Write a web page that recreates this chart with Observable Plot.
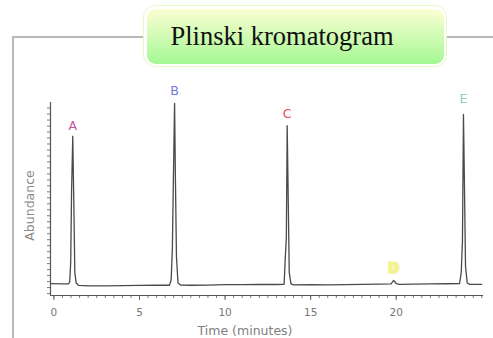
<!DOCTYPE html>
<html><head><meta charset="utf-8">
<script src="https://cdn.jsdelivr.net/npm/d3@7"></script>
<script src="https://cdn.jsdelivr.net/npm/@observablehq/plot@0.6"></script>
<style>
html,body{margin:0;padding:0;background:#fff;width:493px;height:338px;overflow:hidden;position:relative;}
#frame{position:absolute;left:12px;top:36px;width:500px;height:320px;border-top:2px solid #b8b8b8;border-left:2px solid #b8b8b8;}
#title{position:absolute;left:143px;top:5px;padding:2.5px;background:#fff;border:1.5px solid #e4fcc4;border-radius:12px;}
#title div{width:297px;height:55px;border-radius:9px;background:linear-gradient(#fcfed2,#a4f894);font-family:"Liberation Serif",serif;font-size:26.5px;line-height:55px;color:#111;padding-left:24px;box-sizing:border-box;white-space:nowrap;}
#chart{position:absolute;left:0;top:0;}
</style>
</head><body>
<div id="frame"></div>
<div id="chart"></div>
<div id="title"><div>Plinski kromatogram</div></div>
<script>
// Chromatogram trace (time in minutes, relative abundance)
const times = [-0.2, 0.5, 0.85, 0.92, 0.98, 1.03, 1.1, 1.16, 1.22, 1.3, 1.45, 2, 3, 4, 5, 6, 6.75, 6.85, 6.92, 6.98, 7.05, 7.1, 7.16, 7.25, 7.4, 8, 9, 10, 11, 12, 13, 13.45, 13.52, 13.58, 13.63, 13.69, 13.75, 13.85, 14, 15, 16, 17, 18, 19, 19.7, 19.85, 20.0, 20.2, 21, 22, 23, 23.7, 23.8, 23.87, 23.93, 23.99, 24.05, 24.15, 24.3, 25.0];
const abundance = [6.2, 6.0, 6.0, 7, 17, 53, 82.5, 50, 12, 6.5, 5.2, 5.0, 5.0, 5.1, 5.2, 5.3, 5.3, 8, 24, 60, 99.5, 60, 20, 6.5, 5.4, 5.3, 5.4, 5.6, 5.6, 5.7, 5.7, 5.8, 20, 30, 88, 50, 12, 6, 5.5, 5.6, 5.5, 5.6, 5.8, 5.9, 6, 7.8, 6.2, 5.8, 5.9, 6, 6.1, 6.2, 12, 28, 93.8, 55, 15, 6.5, 5.8, 5.8];

// Peak labels
const peakNames = ["A", "B", "C", "D", "E"];
const peakTimes = [1.1, 7.05, 13.63, 19.85, 23.93];
const labelLevels = [88, 106, 94, 14, 102];
const peakColors = ["#c2559c", "#7474e0", "#e8485f", "#f2f28a", "#92cfc0"];

// Axis ticks
const xTickValues = [0, 5, 10, 15, 20];
const xTickLabels = ["0", "5", "10", "15", "20"];
const xMinorTicks = [0, 0.5, 1, 1.5, 2, 2.5, 3, 3.5, 4, 4.5, 5, 5.5, 6, 6.5, 7, 7.5, 8, 8.5, 9, 9.5, 10, 10.5, 11, 11.5, 12, 12.5, 13, 13.5, 14, 14.5, 15, 15.5, 16, 16.5, 17, 17.5, 18, 18.5, 19, 19.5, 20, 20.5, 21, 21.5, 22, 22.5, 23, 23.5, 24, 24.5, 25];
const yMinorTicks = d3.range(1, 100, 3.1);

const xLabel = "Time (minutes)";
const yLabel = "Abundance";

const trace = times.map((t, i) => ({t, a: abundance[i]}));
const peaks = peakNames.map((n, i) => ({n, t: peakTimes[i], y: labelLevels[i], c: peakColors[i]}));

const chart = Plot.plot({
  width: 493, height: 338,
  marginLeft: 50, marginRight: 10, marginTop: 102, marginBottom: 43,
  x: {domain: [-0.2, 25.1]},
  y: {domain: [0, 100]},
  style: {background: "transparent", fontFamily: "DejaVu Sans, sans-serif", fontSize: "10.5px", color: "#777", overflow: "visible"},
  marks: [
    Plot.axisY({ticks: yMinorTicks, tickSize: 3, tickFormat: () => "", stroke: "#777", label: null}),
    Plot.axisX({ticks: xMinorTicks, tickSize: 3, tickFormat: () => "", stroke: "#777", label: null}),
    Plot.axisX({ticks: xTickValues, tickSize: 5, tickPadding: 8, tickFormat: (d, i) => xTickLabels[i], stroke: "#666", fill: "#777", label: null}),
    Plot.ruleY([0], {stroke: "#555", strokeWidth: 1.2}),
    Plot.ruleX([-0.2], {stroke: "#555", strokeWidth: 1.2}),
    Plot.line(trace, {x: "t", y: "a", stroke: "#4a4a4a", strokeWidth: 1.3}),
    Plot.text(peaks, {x: "t", y: "y", text: "n", fill: "c", stroke: d => d.n === "D" ? d.c : "none", strokeWidth: 4, fillOpacity: d => d.n === "D" ? 0.85 : 1, strokeOpacity: 0.85, fontSize: 12.5, fontFamily: "DejaVu Sans, sans-serif"}),
    Plot.text([yLabel], {frameAnchor: "left", textAnchor: "middle", rotate: -90, dx: -21, dy: 6.5, fill: "#888", fontSize: 12.5}),
    Plot.text([xLabel], {frameAnchor: "bottom", dx: -22, dy: 39, fill: "#808080", fontSize: 12.5})
  ]
});
document.getElementById("chart").appendChild(chart);
</script>
</body></html>
